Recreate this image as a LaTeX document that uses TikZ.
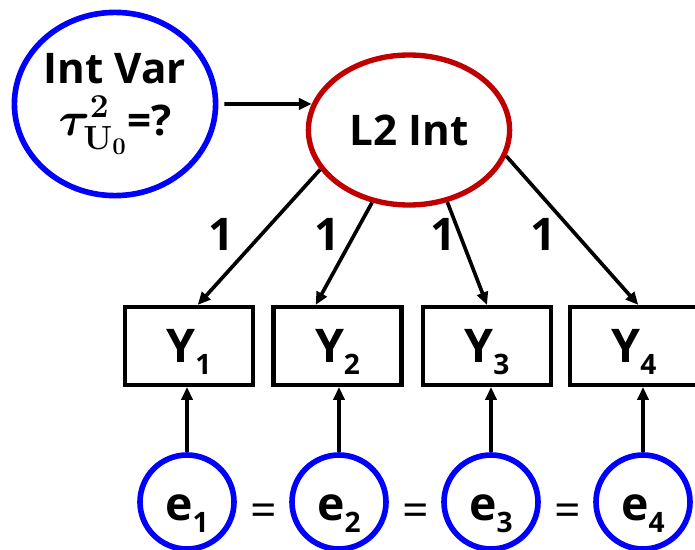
\RequirePackage{fix-cm}
\documentclass[tikz,border=0pt]{standalone}
\usepackage[no-math]{fontspec}
\setmainfont{Open Sans}
\usetikzlibrary{arrows.meta,shapes.geometric}
\definecolor{varblue}{RGB}{0,0,255}
\definecolor{intred}{RGB}{192,0,0}
\newcommand{\lowidx}[1]{\raisebox{-9pt}{\fontsize{20}{20}\selectfont #1}}
\begin{document}
\begin{tikzpicture}[x=1cm,y=1cm,
  latent/.style={draw, ellipse, inner sep=0pt, align=center, font=\bfseries\fontsize{30}{37}\selectfont},
  obs/.style={draw, line width=2.9pt, minimum width=3.2cm, minimum height=1.95cm, text height=0.8cm, text depth=0cm, font=\bfseries\fontsize{33}{33}\selectfont},
  resid/.style={draw=varblue, line width=4pt, circle, minimum size=2.35cm, inner sep=0pt, text height=0.9cm, text depth=0cm, font=\bfseries\fontsize{33}{33}\selectfont},
  load/.style={font=\bfseries\fontsize{32}{32}\selectfont},
  same/.style={font=\fontsize{33}{33}\selectfont},
  reg/.style={-{Triangle[length=0.32cm,width=0.28cm]}, line width=2.6pt}]
\useasboundingbox (0,0) rectangle (17.375,13.725);
\node[latent, draw=varblue, line width=4pt, minimum width=5.03cm, minimum height=4.58cm] (intvar) at (2.875,11.125) {Int Var\\{\fontsize{34}{37}\selectfont\boldmath$\tau^{2}_{\mathbf{U}_{0}}$}=?};
\node[latent, draw=intred, line width=3.8pt, minimum width=5.03cm, minimum height=3.75cm, text height=0.75cm, text depth=0cm] (l2int) at (10.225,10.475) {L2 Int};
\node[obs] (y1) at (4.725,5.075) {Y\lowidx{1}};
\node[obs] (y2) at (8.4375,5.075) {Y\lowidx{2}};
\node[obs] (y3) at (12.175,5.075) {Y\lowidx{3}};
\node[obs] (y4) at (15.85,5.075) {Y\lowidx{4}};
\node[resid] (e1) at (4.675,1.175) {e\lowidx{1}};
\node[resid] (e2) at (8.475,1.175) {e\lowidx{2}};
\node[resid] (e3) at (12.275,1.175) {e\lowidx{3}};
\node[resid] (e4) at (16.075,1.175) {e\lowidx{4}};
\node[same] (eq12) at (6.6,0.85) {=};
\node[same] (eq23) at (10.4,0.85) {=};
\node[same] (eq34) at (14.2,0.85) {=};
\node[load] (w1) at (5.525,7.875) {1};
\node[load] (w2) at (8.175,7.875) {1};
\node[load] (w3) at (11.075,7.875) {1};
\node[load] (w4) at (13.575,7.875) {1};
\draw[reg, shorten <=0.15cm] (intvar.east) -- (l2int.165);
\draw[reg] (l2int.204) -- (y1.78);
\draw[reg] (l2int.243) -- (y2.118);
\draw[reg] (l2int.298) -- (y3.90);
\draw[reg] (l2int.345) -- (y4.84);
\draw[reg] (e1) -- (e1 |- y1.south);
\draw[reg] (e2) -- (e2 |- y2.south);
\draw[reg] (e3) -- (e3 |- y3.south);
\draw[reg] (e4) -- (e4 |- y4.south);
\end{tikzpicture}
\end{document}
